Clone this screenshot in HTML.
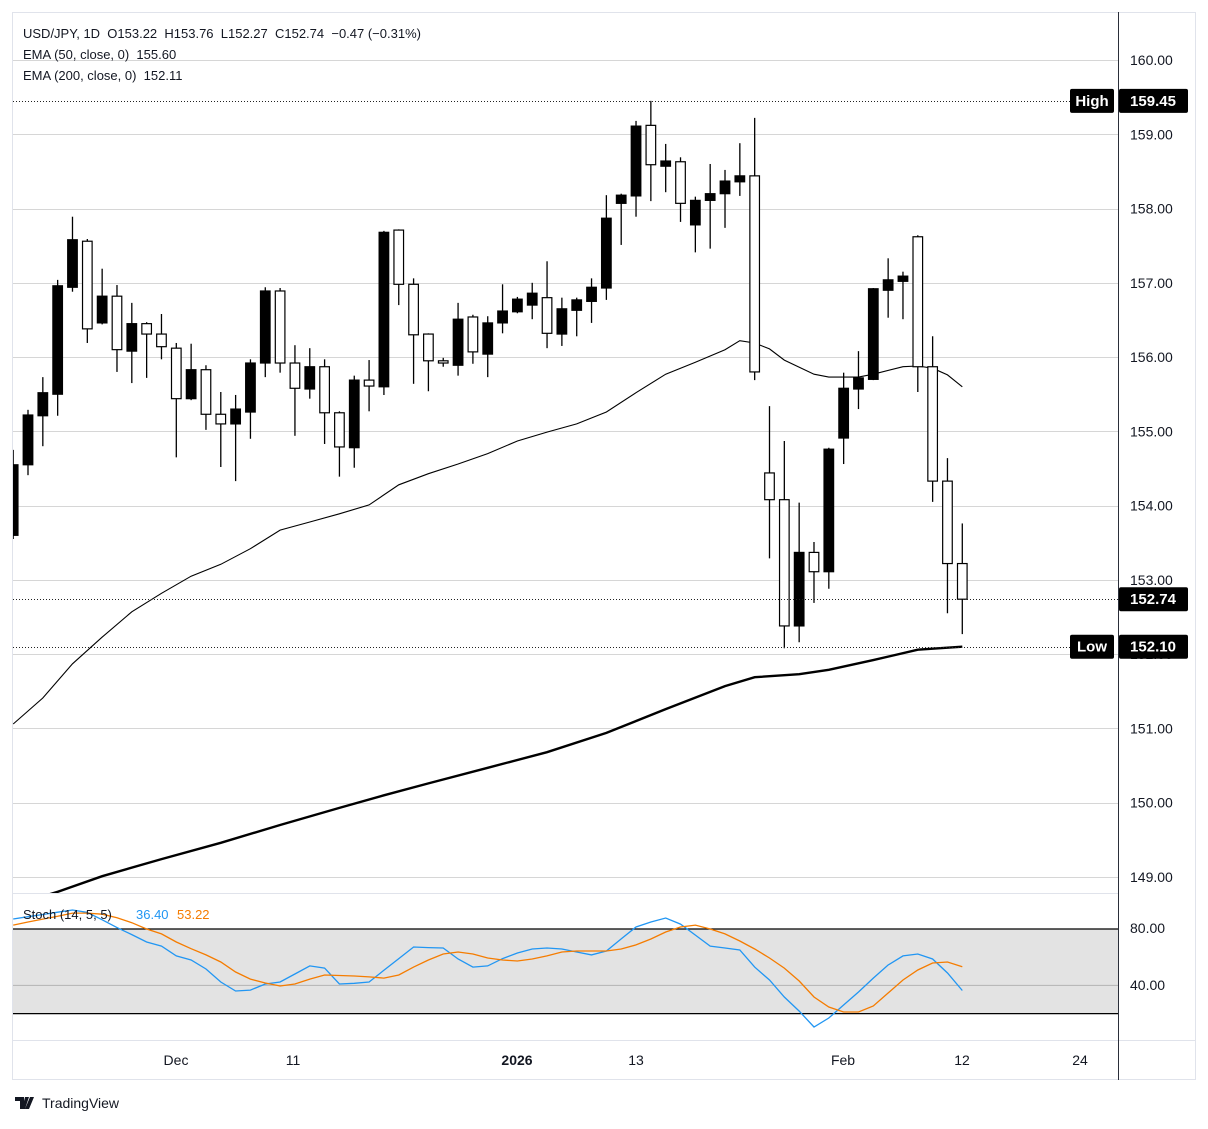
<!DOCTYPE html>
<html><head><meta charset="utf-8"><style>
html,body{margin:0;padding:0;background:#fff;}
body{width:1208px;height:1124px;overflow:hidden;font-family:"Liberation Sans",sans-serif;}
svg text{font-family:"Liberation Sans",sans-serif;}
</style></head><body>
<svg id="chart" width="1208" height="1124" viewBox="0 0 1208 1124" xmlns="http://www.w3.org/2000/svg">
<defs>
<clipPath id="mainClip"><rect x="13" y="13" width="1105" height="880"/></clipPath>
<clipPath id="stochClip"><rect x="13" y="894" width="1105" height="146"/></clipPath>
</defs>
<rect x="12.5" y="12.5" width="1183" height="1067" fill="#fff" stroke="#e0e3eb"/>
<g id="grid"></g>
<rect x="13" y="929" width="1105" height="85" fill="#e3e3e3"/>
<line x1="13" y1="929" x2="1118" y2="929" stroke="#000" stroke-width="1.3"/>
<line x1="13" y1="1013.6" x2="1118" y2="1013.6" stroke="#000" stroke-width="1.3"/>
<line x1="13" y1="985.4" x2="1118" y2="985.4" stroke="#b3b3b3" stroke-width="1"/>
<g id="main" clip-path="url(#mainClip)"></g>
<g id="stoch" clip-path="url(#stochClip)"></g>
<line x1="13" y1="893.5" x2="1118" y2="893.5" stroke="#e0e3eb" stroke-width="1"/>
<line x1="13" y1="1040.5" x2="1195" y2="1040.5" stroke="#e0e3eb" stroke-width="1"/>
<line x1="1118.5" y1="12" x2="1118.5" y2="1080" stroke="#2a2e39" stroke-width="1"/>
<g id="axis" font-size="14" fill="#131722"></g>
<g font-size="14" fill="#131722">
<text x="1130" y="933">80.00</text><text x="1130" y="990">40.00</text>
</g>
<g font-size="14" fill="#131722" text-anchor="middle">
<text x="176" y="1065">Dec</text><text x="293" y="1065">11</text><text x="517" y="1065" font-weight="bold">2026</text>
<text x="636" y="1065">13</text><text x="843" y="1065">Feb</text><text x="962" y="1065">12</text><text x="1080" y="1065">24</text>
</g>
<g font-size="13" fill="#131722">
<text x="23" y="38" xml:space="preserve">USD/JPY, 1D  O153.22  H153.76  L152.27  C152.74  −0.47 (−0.31%)</text>
<text x="23" y="59" xml:space="preserve">EMA (50, close, 0)  155.60</text>
<text x="23" y="80" xml:space="preserve">EMA (200, close, 0)  152.11</text>
</g>
<g font-size="13">
<text x="23" y="919" fill="#131722" xml:space="preserve">Stoch (14, 5, 5)</text>
<text x="136" y="919" fill="#2196f3">36.40</text>
<text x="177" y="919" fill="#f57c00">53.22</text>
</g>
<g>
<path d="M15 1097h9v12h-4v-8h-5z M25 1097h4l-4 12h-3z M30 1097h4l-5 12h-4z" fill="#131722"/>
<text x="42" y="1108" font-size="14" fill="#131722">TradingView</text>
</g>
</svg>
<script>
const opens=[153.60,154.55,155.21,155.50,156.94,157.56,156.46,156.82,156.08,156.45,156.31,156.12,155.44,155.83,155.23,155.10,155.26,155.92,156.89,155.92,155.57,155.87,155.25,154.78,155.69,155.60,157.71,156.98,156.31,155.95,155.89,156.54,156.04,156.46,156.61,156.70,156.80,156.31,156.63,156.75,156.93,158.07,158.17,159.12,158.57,158.63,157.78,158.11,158.20,158.36,158.44,154.44,154.08,152.38,153.37,153.11,154.91,155.57,155.70,156.90,157.02,157.62,155.87,154.33,153.22];
const highs=[154.75,155.29,155.73,157.04,157.89,157.59,157.19,156.97,156.73,156.47,156.58,156.19,156.18,155.89,155.53,155.49,155.97,156.94,156.93,156.16,156.12,155.97,155.27,155.75,155.96,157.70,157.72,157.06,156.32,155.99,156.73,156.57,156.55,156.98,156.81,157.00,157.29,156.80,156.80,157.06,158.18,158.20,159.18,159.45,158.87,158.69,158.16,158.60,158.52,158.88,159.22,155.34,154.87,154.04,153.51,154.78,155.79,156.08,156.93,157.33,157.15,157.64,156.28,154.64,153.76];
const lows=[153.55,154.41,154.80,155.21,156.88,156.19,156.44,155.80,155.65,155.72,155.97,154.65,155.42,155.02,154.52,154.33,154.90,155.73,155.79,154.94,155.44,154.83,154.39,154.51,155.27,155.49,156.70,155.64,155.54,155.87,155.75,155.91,155.73,156.32,156.59,156.51,156.12,156.15,156.28,156.46,156.77,157.51,157.89,158.10,158.22,157.82,157.41,157.46,157.74,158.17,155.69,153.29,152.08,152.16,152.69,152.88,154.56,155.30,155.69,156.53,156.51,155.53,154.05,152.55,152.27];
const closes=[154.55,155.22,155.52,156.96,157.58,156.38,156.82,156.10,156.45,156.31,156.14,155.44,155.83,155.23,155.10,155.30,155.92,156.89,155.92,155.58,155.87,155.25,154.79,155.69,155.61,157.68,156.98,156.30,155.95,155.92,156.51,156.07,156.46,156.62,156.78,156.86,156.32,156.65,156.77,156.94,157.87,158.18,159.11,158.59,158.64,158.07,158.11,158.20,158.37,158.44,155.80,154.08,152.38,153.37,153.11,154.76,155.58,155.72,156.92,157.04,157.09,155.87,154.33,153.22,152.74];
const ema50Idx=[0,2,4,6,8,10,12,14,16,18,20,22,24,26,28,30,32,34,36,38,40,42,44,46,48,49,50,51,52,54,55,57,58,60,61,62,63,64];
const ema50Vals=[151.06,151.41,151.87,152.23,152.57,152.82,153.05,153.21,153.42,153.67,153.78,153.89,154.01,154.28,154.43,154.56,154.70,154.87,154.99,155.10,155.26,155.52,155.77,155.93,156.10,156.22,156.19,156.11,155.96,155.77,155.73,155.73,155.77,155.87,155.88,155.85,155.76,155.60];
const ema200Idx=[0,3,6,10,14,18,22,25,28,32,36,40,44,48,50,53,55,58,61,64];
const ema200Vals=[148.62,148.80,149.01,149.24,149.46,149.70,149.93,150.10,150.26,150.47,150.68,150.94,151.26,151.57,151.69,151.73,151.79,151.92,152.06,152.10];
const stochK=[87.1,88.7,90.3,91.9,93.5,91.8,86.5,81,76,70.8,67.9,60.9,58,51.6,42.4,36,36.7,41,42.4,48.1,53.8,52.3,41,41.5,42.4,50.7,59,67.2,66.8,66.5,58.7,53,53.8,59,63,65.8,66.5,65.8,63.7,61.6,64.4,73,81.4,85,87.8,83.5,75.7,67.9,66.5,65.1,53,43.8,31.8,21.8,10.5,16.9,26.1,35.3,45.2,54.5,60.9,62.3,58.7,48.8,36.4];
const stochD=[82.8,85,87,89,91.3,91.3,90.5,88,84.5,80,76.5,70.8,66,61.6,56.6,49.5,44.5,41.7,39.6,41,44.5,47.4,47,46.7,46,45.2,47.4,53,58,62.3,63.7,62.3,59.4,58,57.3,58.7,60.9,63.7,64.4,64.4,64.4,65.8,68.7,72.9,77.9,81.4,82.8,80,76.5,71.5,65.8,59.4,52.3,43.1,31.8,24.7,21.1,21.1,25.4,34.6,43.8,50.9,55.9,56.6,53.2];
const priceTicks=[160,159,158,157,156,155,154,153,152,151,150,149];

const NS="http://www.w3.org/2000/svg";
function xOf(i){return 28+(i-1)*14.83;}
function yP(p){return 60+(160-p)*74.27;}
function yS(v){return 929+(80-v)*1.41;}
function mk(tag,attrs,parent){const e=document.createElementNS(NS,tag);for(const k in attrs)e.setAttribute(k,attrs[k]);parent.appendChild(e);return e;}

const grid=document.getElementById('grid');
const axis=document.getElementById('axis');
priceTicks.forEach(p=>{
  const y=Math.round(yP(p))+0.5;
  const l=mk('line',{x1:13,x2:1118,y1:y,y2:y,stroke:'#d6d6d6','stroke-width':1},grid);
  
  
  const t=mk('text',{x:1130,y:yP(p)+5},axis);
  t.textContent=p.toFixed(2);
  
  
});

const main=document.getElementById('main');
// reference dotted lines
const hi=Math.max(...highs), lo=Math.min(...lows.slice(1)), last=closes[closes.length-1];
[[hi,1070,'high-line'],[last,1118,'last-price-line'],[152.10,1070,'low-line']].forEach(r=>{
  const y=Math.round(yP(r[0]))+0.5;
  const l=mk('line',{x1:13,x2:r[1],y1:y,y2:y,stroke:'#222','stroke-width':1,'stroke-dasharray':'1,2'},document.getElementById('chart'));
  
  
});

function path(idx,vals,f){return idx.map((i,k)=>(k?'L':'M')+xOf(i).toFixed(1)+' '+f(vals[k]).toFixed(1)).join(' ');}
const e200=mk('path',{d:path(ema200Idx,ema200Vals,yP),fill:'none',stroke:'#000','stroke-width':2.4},main);


const e50=mk('path',{d:path(ema50Idx,ema50Vals,yP),fill:'none',stroke:'#000','stroke-width':1.1},main);



for(let i=0;i<opens.length;i++){
  const x=xOf(i), up=closes[i]>=opens[i];
  const g=mk('g',{},main);
  
  
  mk('line',{x1:x,x2:x,y1:yP(highs[i]),y2:yP(lows[i]),stroke:'#000','stroke-width':1.3},g);
  const top=yP(Math.max(opens[i],closes[i])), bot=yP(Math.min(opens[i],closes[i]));
  mk('rect',{x:x-4.8,y:top,width:9.6,height:Math.max(bot-top,1.5),fill:up?'#000':'#fff',stroke:'#000','stroke-width':1.2},g);
}

const stoch=document.getElementById('stoch');
const idxAll=stochK.map((_,i)=>i);
const kl=mk('path',{d:path(idxAll,stochK,yS),fill:'none',stroke:'#2196f3','stroke-width':1.3},stoch);


const dl=mk('path',{d:path(idxAll,stochD,yS),fill:'none',stroke:'#f57c00','stroke-width':1.3},stoch);



// price labels on axis
const svg=document.getElementById('chart');
function badge(label,val,name){
  const y=yP(val);
  const g=mk('g',{},svg);
  
  
  if(label){
    mk('rect',{x:1070,y:y-12,width:44,height:24,rx:2,fill:'#000'},g);
    const t=mk('text',{x:1092,y:y+5,'font-size':'15','font-weight':'bold',fill:'#fff','text-anchor':'middle'},g);
    t.textContent=label;
  }
  mk('rect',{x:1119,y:y-12,width:69,height:24,rx:2,fill:'#000'},g);
  const v=mk('text',{x:1153,y:y+5,'font-size':'15','font-weight':'bold',fill:'#fff','text-anchor':'middle'},g);
  v.textContent=val.toFixed(2);
}
badge('High',hi,'high-badge');
badge('',last,'last-price-badge');
badge('Low',152.10,'low-badge');
</script>
</body></html>
